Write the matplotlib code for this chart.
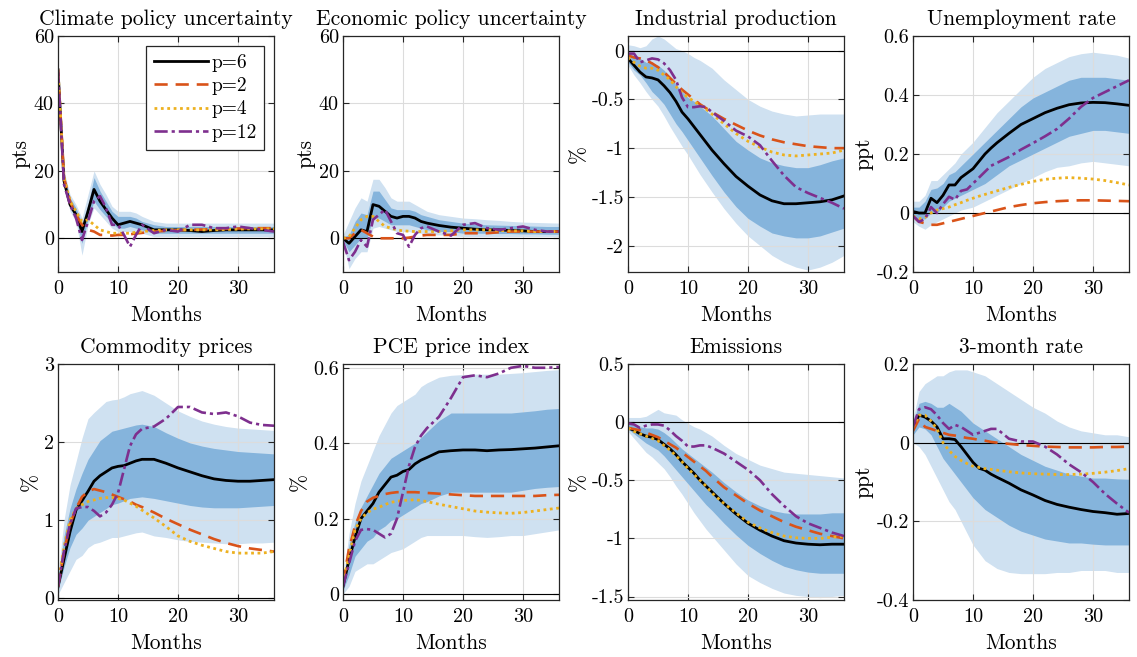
import matplotlib
matplotlib.use("Agg")
import matplotlib.pyplot as plt
from matplotlib.ticker import FuncFormatter

plt.rcParams['font.family'] = ['cmr10', 'DejaVu Serif']
plt.rcParams['axes.unicode_minus'] = False
plt.rcParams['mathtext.fontset'] = 'cm'

# horizons (months)
months = [0, 1, 2, 3, 4, 5, 6, 7, 8, 9, 10, 11, 12, 13, 14,
          16, 18, 20, 22, 24, 26, 28, 30, 32, 34, 36]

# ---- Climate policy uncertainty ----
cpu_p6 = [50, 17, 10, 7, 2, 8, 14.5, 11, 8.5, 6, 4, 4.5, 5, 4.5, 4, 2.5, 2.5, 2.5, 2.3, 2, 2.3, 2.5, 2.5, 2.5, 2.5, 2.5]
cpu_p2 = [50, 18, 11, 7, 4, 2.5, 2, 1, 1, 0.8, 1, 1, 1.2, 1.4, 1.6, 2, 2.2, 2.4, 2.5, 2.6, 2.7, 2.8, 2.9, 3, 3, 3]
cpu_p4 = [50, 18, 11, 8, 5, 5.5, 4, 2.5, 2, 1.5, 1.5, 1.5, 1.5, 1.8, 2, 2.3, 2.5, 2.5, 2.5, 2.5, 2.5, 2.6, 2.7, 2.8, 2.8, 2.8]
cpu_p12 = [50, 16, 10, 6, -0.5, 5, 11, 12.5, 9, 4, 4, 1, -2.5, 1, 4, 1.5, 2.5, 2, 4, 4, 3, 3, 3.5, 3, 2.5, 2]
cpu_lo90 = [50, 16, 8, 5, -5, 4, 9, 7, 5, 3, 2, 2, 2, 2, 1.5, 0.5, 0.5, 0.5, 0.5, 0.5, 0.5, 0.5, 0.5, 0.5, 0.5, 0.5]
cpu_hi90 = [50, 20, 13, 10, 6, 13, 20, 16, 13, 9.5, 8, 8, 8, 7.5, 6.5, 5, 4.5, 4.5, 4.5, 4.5, 4.5, 4.5, 4.5, 4.5, 4.5, 4.5]
cpu_lo68 = [50, 17, 9, 6, -1.5, 5.5, 11, 8.5, 6.5, 4.5, 3, 3, 3.5, 3, 2.5, 1.5, 1.5, 1.5, 1.5, 1.5, 1.5, 1.5, 1.5, 1.5, 1.5, 1.5]
cpu_hi68 = [50, 19, 12, 9, 4.5, 10, 18, 14, 11, 8, 6.5, 6.5, 6.5, 6, 5, 4, 3.5, 3.5, 3.5, 3.5, 3.5, 3.5, 3.5, 3.5, 3.5, 3.5]

# ---- Economic policy uncertainty ----
epu_p6 = [0, -1.5, 0.5, 2.5, 2, 10, 9.5, 8, 6.5, 6, 6.5, 6.5, 6, 5, 4.5, 3.8, 3.3, 3, 2.7, 2.5, 2.5, 2.3, 2.2, 2, 2, 2]
epu_p2 = [0, 0, 1.5, 2.5, 1.5, 0.5, 0, 0, 0, 0, 0, 0.2, 0.5, 0.8, 1, 1, 1, 1.5, 1.5, 1.5, 1.8, 2, 2, 2, 2, 2]
epu_p4 = [0, 0.5, 3, 5.5, 6.5, 6.5, 5, 3.5, 3, 2.5, 2.2, 2.1, 2, 2, 2, 2, 2.2, 2.5, 2.5, 2.5, 2.3, 2.2, 2.2, 2, 2, 2]
epu_p12 = [-1, -6.5, -4, -0.5, -2.5, 5.5, 7, 8.5, 5, 1.5, 1, -2.5, 1, 3, 3.5, 2, 0.8, 4, 4.5, 3, 2.5, 3, 3.5, 2.5, 2, 2]
epu_lo90 = [-1, -9, -6, -4, -4, 3, 3.5, 3, 2.5, 2, 2, 2, 1.5, 1.5, 1, 1, 0.8, 0.5, 0.5, 0.5, 0.5, 0.5, 0.5, 0.5, 0.5, 0.5]
epu_hi90 = [1, 5, 9, 12, 11, 17.5, 17.5, 15, 12, 11, 11, 11, 10, 9, 8, 7, 6.5, 6, 5.8, 5.5, 5.3, 5, 4.8, 4.7, 4.6, 4.5]
epu_lo68 = [-0.5, -4, -2, 0, 0, 6, 6, 5, 4, 4, 4, 4, 3.5, 3, 2.5, 2, 2, 1.5, 1.5, 1.5, 1.4, 1.4, 1.3, 1.3, 1.2, 1.2]
epu_hi68 = [0.5, 1, 5, 7.5, 7, 14, 14, 11.5, 9, 8.5, 8.5, 8.5, 8, 7, 6.5, 5.5, 5, 4.5, 4.2, 4, 3.9, 3.8, 3.7, 3.6, 3.5, 3.5]

# ---- Industrial production ----
ip_p6 = [-0.08, -0.15, -0.22, -0.27, -0.28, -0.3, -0.36, -0.43, -0.52, -0.63, -0.7, -0.78, -0.86, -0.94, -1.02, -1.16, -1.29, -1.39, -1.48, -1.54, -1.57, -1.57, -1.56, -1.55, -1.53, -1.49]
ip_p2 = [-0.05, -0.07, -0.08, -0.1, -0.13, -0.17, -0.22, -0.28, -0.34, -0.4, -0.45, -0.5, -0.55, -0.59, -0.63, -0.7, -0.76, -0.82, -0.87, -0.91, -0.94, -0.96, -0.98, -0.99, -1.0, -1.0]
ip_p4 = [-0.07, -0.12, -0.16, -0.18, -0.18, -0.2, -0.25, -0.3, -0.37, -0.43, -0.48, -0.52, -0.56, -0.6, -0.65, -0.75, -0.85, -0.93, -0.99, -1.04, -1.07, -1.08, -1.07, -1.06, -1.05, -1.02]
ip_p12 = [-0.03, -0.03, -0.12, -0.1, -0.08, -0.09, -0.13, -0.2, -0.3, -0.48, -0.58, -0.58, -0.57, -0.58, -0.63, -0.72, -0.82, -0.88, -0.97, -1.13, -1.28, -1.4, -1.46, -1.51, -1.56, -1.62]
ip_lo90 = [-0.15, -0.25, -0.33, -0.42, -0.5, -0.57, -0.67, -0.78, -0.88, -0.98, -1.07, -1.17, -1.27, -1.36, -1.45, -1.62, -1.77, -1.9, -2.0, -2.1, -2.17, -2.22, -2.25, -2.22, -2.17, -2.1]
ip_hi90 = [0.06, 0.05, 0.03, 0.05, 0.12, 0.15, 0.12, 0.07, 0.02, 0.0, -0.03, -0.07, -0.1, -0.14, -0.18, -0.3, -0.4, -0.5, -0.57, -0.62, -0.65, -0.67, -0.66, -0.65, -0.65, -0.65]
ip_lo68 = [-0.12, -0.2, -0.25, -0.33, -0.42, -0.48, -0.55, -0.65, -0.75, -0.83, -0.92, -1.01, -1.1, -1.19, -1.28, -1.45, -1.6, -1.72, -1.8, -1.87, -1.9, -1.92, -1.92, -1.9, -1.86, -1.82]
ip_hi68 = [-0.02, -0.05, -0.08, -0.12, -0.13, -0.15, -0.2, -0.27, -0.35, -0.42, -0.48, -0.52, -0.57, -0.62, -0.67, -0.8, -0.93, -1.02, -1.1, -1.15, -1.18, -1.2, -1.2, -1.17, -1.13, -1.1]

# ---- Unemployment rate ----
ur_p6 = [0.005, 0, 0, 0.05, 0.035, 0.06, 0.095, 0.095, 0.12, 0.135, 0.15, 0.175, 0.2, 0.22, 0.238, 0.27, 0.3, 0.32, 0.34, 0.355, 0.367, 0.373, 0.375, 0.374, 0.37, 0.365]
ur_p2 = [-0.01, -0.03, -0.035, -0.04, -0.04, -0.035, -0.03, -0.025, -0.02, -0.015, -0.01, -0.005, 0, 0.005, 0.01, 0.02, 0.027, 0.033, 0.037, 0.04, 0.042, 0.043, 0.043, 0.042, 0.041, 0.04]
ur_p4 = [-0.01, -0.02, -0.015, 0, 0.01, 0.015, 0.02, 0.028, 0.035, 0.043, 0.05, 0.057, 0.063, 0.069, 0.075, 0.087, 0.097, 0.107, 0.114, 0.118, 0.12, 0.118, 0.115, 0.11, 0.103, 0.095]
ur_p12 = [-0.01, -0.03, -0.02, 0.02, 0, 0.03, 0.055, 0.045, 0.075, 0.08, 0.1, 0.12, 0.14, 0.16, 0.17, 0.19, 0.215, 0.237, 0.26, 0.285, 0.32, 0.36, 0.39, 0.41, 0.43, 0.45]
ur_lo90 = [-0.03, -0.045, -0.055, -0.04, -0.03, -0.02, -0.01, 0, 0.01, 0.015, 0.02, 0.03, 0.04, 0.05, 0.06, 0.08, 0.1, 0.12, 0.14, 0.155, 0.16, 0.17, 0.175, 0.17, 0.165, 0.16]
ur_hi90 = [0.04, 0.04, 0.06, 0.11, 0.11, 0.13, 0.15, 0.17, 0.2, 0.22, 0.24, 0.265, 0.29, 0.315, 0.34, 0.38, 0.42, 0.46, 0.49, 0.51, 0.53, 0.54, 0.545, 0.54, 0.535, 0.525]
ur_lo68 = [-0.015, -0.02, -0.02, 0, 0, 0.02, 0.04, 0.05, 0.06, 0.07, 0.08, 0.09, 0.1, 0.115, 0.13, 0.16, 0.18, 0.2, 0.22, 0.24, 0.26, 0.27, 0.28, 0.28, 0.275, 0.27]
ur_hi68 = [0.02, 0.02, 0.04, 0.08, 0.085, 0.1, 0.13, 0.14, 0.16, 0.18, 0.2, 0.22, 0.24, 0.26, 0.28, 0.32, 0.36, 0.39, 0.41, 0.43, 0.45, 0.46, 0.46, 0.46, 0.455, 0.45]

# ---- Commodity prices ----
com_p6 = [0.15, 0.5, 0.85, 1.13, 1.25, 1.37, 1.5, 1.57, 1.62, 1.67, 1.69, 1.7, 1.73, 1.76, 1.78, 1.78, 1.73, 1.67, 1.62, 1.57, 1.53, 1.51, 1.5, 1.5, 1.51, 1.52]
com_p2 = [0.15, 0.6, 0.95, 1.15, 1.3, 1.37, 1.4, 1.38, 1.36, 1.33, 1.3, 1.27, 1.24, 1.2, 1.17, 1.1, 1.02, 0.95, 0.88, 0.82, 0.76, 0.71, 0.67, 0.64, 0.62, 0.6]
com_p4 = [0.2, 0.65, 1.0, 1.15, 1.2, 1.24, 1.26, 1.28, 1.29, 1.29, 1.28, 1.26, 1.22, 1.18, 1.13, 1.03, 0.92, 0.8, 0.73, 0.68, 0.64, 0.6, 0.58, 0.58, 0.58, 0.6]
com_p12 = [0.15, 0.6, 0.95, 1.15, 1.17, 1.17, 1.12, 1.05, 1.1, 1.2, 1.35, 1.65, 1.95, 2.1, 2.17, 2.2, 2.3, 2.45, 2.45, 2.38, 2.36, 2.38, 2.33, 2.25, 2.22, 2.21]
com_lo90 = [0.05, 0.2, 0.35, 0.5, 0.55, 0.65, 0.7, 0.72, 0.75, 0.78, 0.78, 0.8, 0.82, 0.84, 0.85, 0.8, 0.78, 0.75, 0.73, 0.72, 0.71, 0.7, 0.7, 0.71, 0.71, 0.72]
com_hi90 = [0.3, 1.0, 1.45, 1.75, 2.05, 2.3, 2.38, 2.45, 2.52, 2.54, 2.55, 2.58, 2.62, 2.64, 2.66, 2.6, 2.5, 2.4, 2.33, 2.27, 2.23, 2.2, 2.18, 2.17, 2.16, 2.15]
com_lo68 = [0.1, 0.4, 0.65, 0.82, 0.9, 1.0, 1.05, 1.1, 1.15, 1.2, 1.22, 1.25, 1.28, 1.29, 1.3, 1.28, 1.25, 1.22, 1.19, 1.17, 1.16, 1.16, 1.16, 1.17, 1.18, 1.19]
com_hi68 = [0.25, 0.8, 1.15, 1.4, 1.6, 1.78, 1.9, 2.02, 2.08, 2.14, 2.16, 2.18, 2.2, 2.22, 2.23, 2.2, 2.12, 2.05, 1.99, 1.95, 1.92, 1.9, 1.88, 1.87, 1.86, 1.85]

# ---- PCE price index ----
pce_p6 = [0.02, 0.09, 0.15, 0.2, 0.22, 0.24, 0.27, 0.29, 0.31, 0.315, 0.325, 0.33, 0.345, 0.355, 0.362, 0.377, 0.38, 0.382, 0.382, 0.38, 0.382, 0.383, 0.385, 0.387, 0.39, 0.393]
pce_p2 = [0.03, 0.12, 0.18, 0.22, 0.245, 0.255, 0.26, 0.265, 0.268, 0.27, 0.27, 0.27, 0.27, 0.269, 0.268, 0.266, 0.264, 0.262, 0.26, 0.26, 0.26, 0.26, 0.26, 0.26, 0.262, 0.263]
pce_p4 = [0.03, 0.1, 0.17, 0.2, 0.215, 0.225, 0.23, 0.237, 0.243, 0.246, 0.248, 0.249, 0.25, 0.248, 0.245, 0.238, 0.232, 0.226, 0.22, 0.217, 0.215, 0.214, 0.216, 0.22, 0.224, 0.228]
pce_p12 = [0.02, 0.08, 0.14, 0.17, 0.172, 0.17, 0.16, 0.15, 0.16, 0.2, 0.27, 0.34, 0.39, 0.42, 0.44, 0.47, 0.52, 0.575, 0.58, 0.575, 0.585, 0.6, 0.605, 0.6, 0.6, 0.602]
pce_lo90 = [0, 0.02, 0.06, 0.07, 0.08, 0.08, 0.09, 0.1, 0.11, 0.115, 0.12, 0.13, 0.14, 0.15, 0.155, 0.155, 0.155, 0.155, 0.152, 0.15, 0.152, 0.155, 0.155, 0.16, 0.165, 0.17]
pce_hi90 = [0.04, 0.16, 0.24, 0.3, 0.34, 0.38, 0.42, 0.45, 0.48, 0.5, 0.51, 0.52, 0.53, 0.55, 0.56, 0.575, 0.58, 0.582, 0.583, 0.583, 0.583, 0.585, 0.587, 0.59, 0.593, 0.595]
pce_lo68 = [0.01, 0.05, 0.1, 0.12, 0.14, 0.15, 0.17, 0.18, 0.195, 0.2, 0.21, 0.22, 0.23, 0.24, 0.245, 0.26, 0.27, 0.27, 0.27, 0.27, 0.27, 0.27, 0.275, 0.28, 0.283, 0.285]
pce_hi68 = [0.03, 0.13, 0.19, 0.23, 0.26, 0.29, 0.32, 0.34, 0.36, 0.37, 0.38, 0.39, 0.4, 0.415, 0.43, 0.46, 0.48, 0.48, 0.48, 0.48, 0.48, 0.48, 0.483, 0.486, 0.49, 0.492]

# ---- Emissions ----
em_p6 = [-0.05, -0.07, -0.1, -0.12, -0.13, -0.15, -0.19, -0.23, -0.28, -0.34, -0.39, -0.44, -0.5, -0.55, -0.6, -0.7, -0.79, -0.87, -0.93, -0.98, -1.02, -1.04, -1.05, -1.055, -1.05, -1.05]
em_p2 = [-0.05, -0.06, -0.07, -0.09, -0.11, -0.13, -0.16, -0.19, -0.22, -0.26, -0.3, -0.34, -0.38, -0.42, -0.47, -0.56, -0.63, -0.7, -0.76, -0.81, -0.86, -0.9, -0.93, -0.96, -0.98, -1.0]
em_p4 = [-0.05, -0.08, -0.1, -0.12, -0.14, -0.16, -0.2, -0.24, -0.29, -0.34, -0.4, -0.45, -0.5, -0.55, -0.61, -0.7, -0.78, -0.86, -0.91, -0.95, -0.98, -0.995, -1.0, -1.0, -0.99, -0.98]
em_p12 = [-0.01, -0.02, -0.05, -0.03, -0.02, -0.02, -0.03, -0.07, -0.12, -0.16, -0.21, -0.21, -0.2, -0.2, -0.22, -0.27, -0.34, -0.41, -0.5, -0.62, -0.72, -0.81, -0.87, -0.91, -0.95, -0.98]
em_lo90 = [-0.08, -0.14, -0.2, -0.26, -0.3, -0.35, -0.4, -0.47, -0.55, -0.62, -0.7, -0.78, -0.85, -0.92, -0.98, -1.1, -1.22, -1.32, -1.38, -1.43, -1.47, -1.49, -1.5, -1.51, -1.5, -1.49]
em_hi90 = [0.04, 0.04, 0.04, 0.05, 0.08, 0.11, 0.08, 0.07, 0.06, 0.02, -0.01, -0.04, -0.06, -0.09, -0.12, -0.2, -0.27, -0.32, -0.37, -0.4, -0.43, -0.44, -0.45, -0.46, -0.47, -0.48]
em_lo68 = [-0.06, -0.1, -0.14, -0.18, -0.21, -0.24, -0.29, -0.35, -0.41, -0.47, -0.53, -0.59, -0.65, -0.71, -0.76, -0.87, -0.97, -1.06, -1.13, -1.19, -1.24, -1.27, -1.29, -1.3, -1.3, -1.3]
em_hi68 = [-0.02, -0.02, -0.04, -0.05, -0.05, -0.06, -0.09, -0.13, -0.18, -0.23, -0.27, -0.31, -0.35, -0.39, -0.43, -0.52, -0.6, -0.67, -0.72, -0.76, -0.78, -0.79, -0.79, -0.79, -0.78, -0.78]

# ---- 3-month rate ----
tb_p6 = [0.04, 0.07, 0.065, 0.055, 0.04, 0.01, 0.01, 0.008, -0.01, -0.03, -0.05, -0.065, -0.07, -0.08, -0.088, -0.103, -0.12, -0.133, -0.147, -0.157, -0.164, -0.17, -0.175, -0.178, -0.182, -0.18]
tb_p2 = [0.03, 0.06, 0.04, 0.035, 0.03, 0.025, 0.02, 0.018, 0.015, 0.012, 0.01, 0.007, 0.005, 0.002, 0, -0.003, -0.006, -0.008, -0.01, -0.011, -0.012, -0.012, -0.012, -0.011, -0.011, -0.01]
tb_p4 = [0.04, 0.07, 0.07, 0.055, 0.035, 0, -0.02, -0.035, -0.045, -0.053, -0.06, -0.063, -0.066, -0.068, -0.07, -0.074, -0.077, -0.079, -0.08, -0.081, -0.081, -0.08, -0.078, -0.075, -0.071, -0.066]
tb_p12 = [0.04, 0.085, 0.09, 0.085, 0.07, 0.05, 0.035, 0.045, 0.04, 0.03, 0.02, 0.025, 0.03, 0.035, 0.035, 0.01, 0.003, 0.003, -0.01, -0.03, -0.055, -0.075, -0.1, -0.13, -0.155, -0.178]
tb_lo90 = [0, -0.01, -0.03, -0.06, -0.09, -0.12, -0.15, -0.17, -0.2, -0.23, -0.26, -0.28, -0.3, -0.31, -0.32, -0.33, -0.333, -0.333, -0.333, -0.33, -0.33, -0.325, -0.325, -0.325, -0.33, -0.33]
tb_hi90 = [0.06, 0.13, 0.15, 0.16, 0.17, 0.17, 0.18, 0.185, 0.185, 0.185, 0.18, 0.175, 0.17, 0.16, 0.15, 0.13, 0.11, 0.09, 0.075, 0.055, 0.04, 0.03, 0.025, 0.02, 0.02, 0.015]
tb_lo68 = [0.02, 0.04, 0.035, 0.02, -0.01, -0.04, -0.06, -0.08, -0.1, -0.12, -0.14, -0.155, -0.17, -0.18, -0.19, -0.21, -0.225, -0.235, -0.245, -0.25, -0.255, -0.255, -0.258, -0.26, -0.26, -0.26]
tb_hi68 = [0.05, 0.1, 0.105, 0.1, 0.09, 0.09, 0.1, 0.09, 0.08, 0.065, 0.05, 0.04, 0.03, 0.02, 0.01, -0.01, -0.03, -0.045, -0.06, -0.07, -0.08, -0.085, -0.09, -0.09, -0.092, -0.093]

titles = ['Climate policy uncertainty', 'Economic policy uncertainty', 'Industrial production',
          'Unemployment rate', 'Commodity prices', 'PCE price index', 'Emissions', '3-month rate']
ylabels = ['pts', 'pts', '%', 'ppt', '%', '%', '%', 'ppt']
legend_labels = ['p=6', 'p=2', 'p=4', 'p=12']

panels = [
    (cpu_p6, cpu_p2, cpu_p4, cpu_p12, cpu_lo90, cpu_hi90, cpu_lo68, cpu_hi68),
    (epu_p6, epu_p2, epu_p4, epu_p12, epu_lo90, epu_hi90, epu_lo68, epu_hi68),
    (ip_p6, ip_p2, ip_p4, ip_p12, ip_lo90, ip_hi90, ip_lo68, ip_hi68),
    (ur_p6, ur_p2, ur_p4, ur_p12, ur_lo90, ur_hi90, ur_lo68, ur_hi68),
    (com_p6, com_p2, com_p4, com_p12, com_lo90, com_hi90, com_lo68, com_hi68),
    (pce_p6, pce_p2, pce_p4, pce_p12, pce_lo90, pce_hi90, pce_lo68, pce_hi68),
    (em_p6, em_p2, em_p4, em_p12, em_lo90, em_hi90, em_lo68, em_hi68),
    (tb_p6, tb_p2, tb_p4, tb_p12, tb_lo90, tb_hi90, tb_lo68, tb_hi68),
]

ylims = [(-10, 60), (-10, 60), (-2.27, 0.15), (-0.2, 0.6),
         (-0.02, 3), (-0.016, 0.61), (-1.53, 0.5), (-0.4, 0.2)]
yticks = [[0, 20, 40, 60], [0, 20, 40, 60], [-2, -1.5, -1, -0.5, 0], [-0.2, 0, 0.2, 0.4, 0.6],
          [0, 1, 2, 3], [0, 0.2, 0.4, 0.6], [-1.5, -1, -0.5, 0, 0.5], [-0.4, -0.2, 0, 0.2]]

# axes geometry in pixels (left, top) for the 1137x657 canvas
W, H = 1137, 657
lefts = [58, 343, 628, 913]
tops = [36, 364]
aw, ah = 216, 236

c_out = '#cfe1f1'
c_in = '#85b4dc'
line_styles = [
    dict(color='black', ls='-', lw=2.0),
    dict(color='#D95319', ls=(0, (5, 3)), lw=1.9),
    dict(color='#EDB120', ls=(0, (1, 1.3)), lw=2.0),
    dict(color='#7E2F8E', ls=(0, (5, 1.5, 1.2, 1.5)), lw=1.9),
]

fig = plt.figure(figsize=(W / 100, H / 100), dpi=100)
fmt = FuncFormatter(lambda v, p: f'{v:g}')

for k, (series, title, ylab) in enumerate(zip(panels, titles, ylabels)):
    r, c = divmod(k, 4)
    ax = fig.add_axes([lefts[c] / W, 1 - (tops[r] + ah) / H, aw / W, ah / H])
    p6, p2, p4, p12, lo90, hi90, lo68, hi68 = series
    ax.fill_between(months, lo90, hi90, color=c_out, lw=0, zorder=1)
    ax.fill_between(months, lo68, hi68, color=c_in, lw=0, zorder=2)
    ax.axhline(0, color='black', lw=0.8, zorder=3)
    handles = []
    for vals, st, lab in zip([p6, p2, p4, p12], line_styles, legend_labels):
        h, = ax.plot(months, vals, label=lab, zorder=4, **st)
        handles.append(h)

    ax.set_xlim(0, 36)
    ax.set_ylim(*ylims[k])
    ax.set_xticks([0, 10, 20, 30])
    ax.set_yticks(yticks[k])
    ax.yaxis.set_major_formatter(fmt)
    ax.grid(True, color='#dcdcdc', lw=0.8)
    for gl in ax.get_xgridlines() + ax.get_ygridlines():
        gl.set_zorder(0.5)
    ax.tick_params(direction='in', top=True, right=True, labelsize=14.5,
                   length=4, width=0.8, color='#262626')
    ax.tick_params(axis='x', pad=6)
    ax.tick_params(axis='y', pad=3)
    for sp in ax.spines.values():
        sp.set_color('#262626')
        sp.set_linewidth(0.9)
        sp.set_zorder(6)
    ax.set_title(title, fontsize=15.5, pad=8)
    ax.set_xlabel('Months', fontsize=15.5, labelpad=5)
    ax.set_ylabel(ylab, fontsize=15.5, labelpad=2)

    if k == 0:
        leg = ax.legend(handles=handles, loc='upper right', fontsize=14,
                        handlelength=2.8, handletextpad=0.15, borderpad=0.4,
                        labelspacing=0.28, fancybox=False, framealpha=1,
                        edgecolor='#262626', borderaxespad=0.5)
        leg.get_frame().set_linewidth(0.9)
        leg.set_zorder(7)

fig.savefig('out.png', dpi=100)
